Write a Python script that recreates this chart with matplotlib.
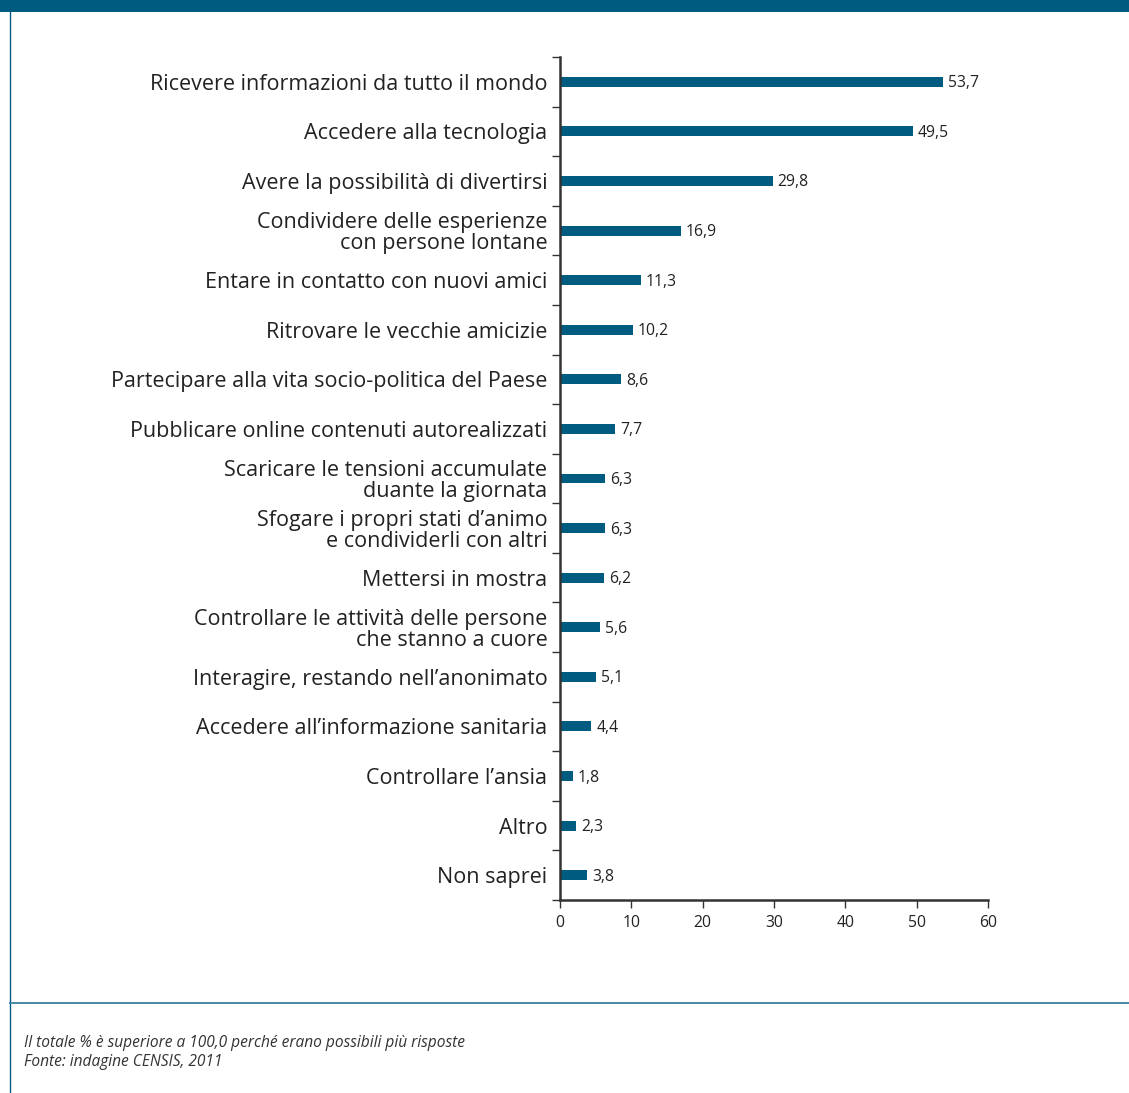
import matplotlib.pyplot as plt
from matplotlib.lines import Line2D
from matplotlib.patches import Rectangle

# ================= DATA =================
categories = [
    "Ricevere informazioni da tutto il mondo",
    "Accedere alla tecnologia",
    "Avere la possibilità di divertirsi",
    "Condividere delle esperienze\ncon persone lontane",
    "Entare in contatto con nuovi amici",
    "Ritrovare le vecchie amicizie",
    "Partecipare alla vita socio-politica del Paese",
    "Pubblicare online contenuti autorealizzati",
    "Scaricare le tensioni accumulate\nduante la giornata",
    "Sfogare i propri stati d\u2019animo\ne condividerli con altri",
    "Mettersi in mostra",
    "Controllare le attività delle persone\nche stanno a cuore",
    "Interagire, restando nell\u2019anonimato",
    "Accedere all\u2019informazione sanitaria",
    "Controllare l\u2019ansia",
    "Altro",
    "Non saprei",
]
values = [53.7, 49.5, 29.8, 16.9, 11.3, 10.2, 8.6, 7.7, 6.3, 6.3, 6.2, 5.6, 5.1, 4.4, 1.8, 2.3, 3.8]
x_ticks = [0, 10, 20, 30, 40, 50, 60]

note_lines = [
    "Il totale % è superiore a 100,0 perché erano possibili più risposte",
    "Fonte: indagine CENSIS, 2011",
]

# ================= STYLE =================
plt.rcParams['font.family'] = ['Open Sans', 'DejaVu Sans']
blue = "#005b80"
dark = "#222222"
axis_col = "#333333"

W, H = 1129, 1093
fig = plt.figure(figsize=(W / 100, H / 100), dpi=100)

# frame: banner, left border, separator
fig.add_artist(Rectangle((0, 1 - 12 / H), 1, 12 / H, transform=fig.transFigure,
                         color=blue, lw=0))
fig.add_artist(Line2D([10 / W, 10 / W], [0, 1 - 12 / H], transform=fig.transFigure,
                      color=blue, lw=1))
fig.add_artist(Line2D([10 / W, 1], [1 - 1003 / H, 1 - 1003 / H], transform=fig.transFigure,
                      color="#3a7f9e", lw=1.3))

# ================= CHART =================
ax = fig.add_axes([560 / W, 1 - 900 / H, 428 / W, 843 / H])
n = len(categories)
ypos = list(range(n))
ax.barh(ypos, values, height=0.2, color=blue)
for y, v in zip(ypos, values):
    ax.text(v + 0.7, y + 0.03, f"{v:.1f}".replace(".", ","), va="center", ha="left",
            fontsize=11.3, color=dark)

ax.set_xlim(0, 60)
ax.set_ylim(n - 0.5, -0.5)
ax.set_xticks(x_ticks)
ax.set_xticklabels([str(t) for t in x_ticks], fontsize=11.3, color=dark)

# category ticks sit at the boundaries, labels at the centres
ax.set_yticks([i - 0.5 for i in range(n + 1)])
ax.set_yticklabels([])
ax.set_yticks(ypos, minor=True)
ax.set_yticklabels(categories, minor=True, fontsize=15.5, color=dark,
                   linespacing=1.0, ha="right")
ax.tick_params(axis="y", which="minor", length=0, pad=9)
ax.tick_params(axis="y", which="major", length=6, width=1, color=axis_col, direction="out")
ax.tick_params(axis="x", length=6, width=1, color=axis_col, direction="out", pad=5)

for s in ["top", "right"]:
    ax.spines[s].set_visible(False)
for s in ["left", "bottom"]:
    ax.spines[s].set_color(axis_col)
    ax.spines[s].set_linewidth(1.8)

# ================= NOTES =================
fig.text(24 / W, 1 - 1043 / H, note_lines[0], fontsize=11.2, style="italic",
         color="#333333", va="center")
fig.text(24 / W, 1 - 1062 / H, note_lines[1], fontsize=11.2, style="italic",
         color="#333333", va="center")

fig.savefig("out.png", dpi=100)
